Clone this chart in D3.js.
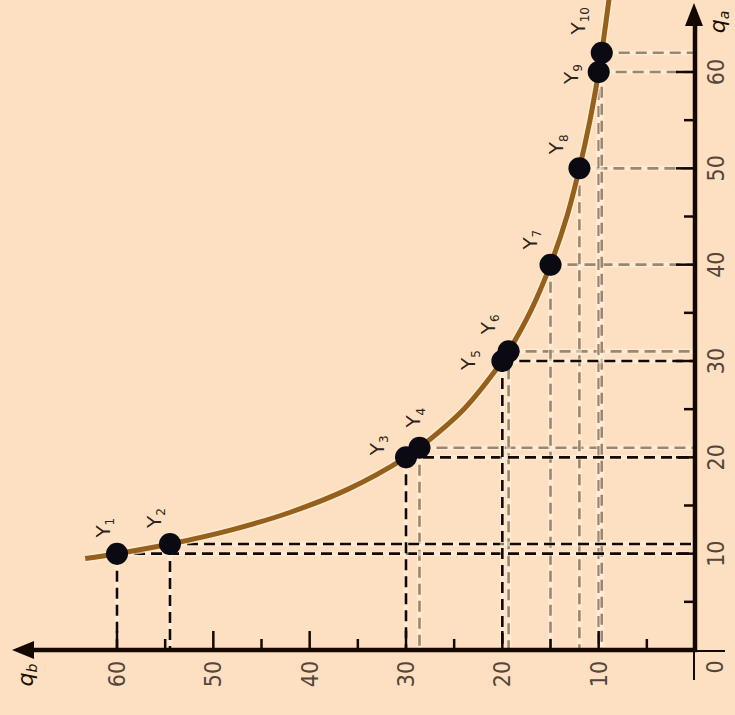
<!DOCTYPE html>
<html><head><meta charset="utf-8">
<script src="https://cdn.jsdelivr.net/npm/d3@7"></script>
<style>
html,body{margin:0;padding:0;background:#fde0c2;}
svg{display:block;}
</style></head>
<body>
<script>
// ---- data ----
const bundleNames = ["1","2","3","4","5","6","7","8","9","10"];
const bundleQb = [60, 54.5, 30, 28.6, 20, 19.35, 15, 12, 10, 9.68];
const bundleQa = [10, 11, 20, 21, 30, 31, 40, 50, 60, 62];
const bundleDark = [true, true, true, false, true, false, false, false, false, false];
const curveQb = [63.3, 60, 54.5, 48, 42, 36, 30, 28.6, 24, 20, 19.35, 17, 15, 13.3, 12, 10.9, 10, 9.68, 8.8];
const curveQa = [9.5, 10, 11, 12.5, 14.3, 16.7, 20, 21, 25, 30, 31, 35.3, 40, 45, 50, 55, 60, 62, 68.5];
const qbTicks = [10, 20, 30, 40, 50, 60];
const qaTicks = [10, 20, 30, 40, 50, 60];
const minorTicks = [5, 15, 25, 35, 45, 55];
// label offsets (layout, px)
const labelDx = [-14, -16, -29, -6, -34, -21, -21, -23, -28, -24];
const labelDy = [-26, -26, -12, -30, -1, -27, -25, -24, 2, -32];

const W = 735, H = 715;
const svg = d3.select("body").append("svg").attr("width", W).attr("height", H);
svg.append("rect").attr("width", W).attr("height", H).attr("fill", "#fde0c2");

const x = d3.scaleLinear().domain([0, 60]).range([695, 117]);
const y = d3.scaleLinear().domain([0, 60]).range([650, 72]);
const X0 = x(0), Y0 = y(0);

const bundles = bundleNames.map((n, i) => ({n, qb: bundleQb[i], qa: bundleQa[i], dark: bundleDark[i], dx: labelDx[i], dy: labelDy[i]}));

// dashed guide lines: gray first, then dark
const order = bundles.slice().sort((a, b) => (a.dark === b.dark) ? 0 : (a.dark ? 1 : -1));
const guides = svg.append("g");
order.forEach(b => {
  const col = b.dark ? "#140800" : "#9c8670";
  [[x(b.qb), y(b.qa), x(b.qb), Y0], [x(b.qb), y(b.qa), X0, y(b.qa)]].forEach(s => {
    guides.append("line").attr("x1", s[0]).attr("y1", s[1]).attr("x2", s[2]).attr("y2", s[3])
      .attr("stroke", "#fff3e0").attr("stroke-width", 5).attr("opacity", 0.5);
  });
  guides.append("line").attr("x1", x(b.qb)).attr("y1", y(b.qa)).attr("x2", x(b.qb)).attr("y2", Y0)
    .attr("stroke", col).attr("stroke-width", 2.6).attr("stroke-dasharray", "11,6");
  guides.append("line").attr("x1", x(b.qb)).attr("y1", y(b.qa)).attr("x2", X0).attr("y2", y(b.qa))
    .attr("stroke", col).attr("stroke-width", 2.6).attr("stroke-dasharray", "11,6");
});

// axes
const axG = svg.append("g");
qbTicks.forEach(t => axG.append("line").attr("x1", x(t)).attr("x2", x(t)).attr("y1", Y0).attr("y2", Y0 - 19).attr("stroke", "#140800").attr("stroke-width", 2.5));
minorTicks.forEach(t => axG.append("line").attr("x1", x(t)).attr("x2", x(t)).attr("y1", Y0).attr("y2", Y0 - 11).attr("stroke", "#140800").attr("stroke-width", 2.5));
qaTicks.forEach(t => axG.append("line").attr("y1", y(t)).attr("y2", y(t)).attr("x1", X0).attr("x2", X0 - 19).attr("stroke", "#140800").attr("stroke-width", 2.5));
minorTicks.forEach(t => axG.append("line").attr("y1", y(t)).attr("y2", y(t)).attr("x1", X0).attr("x2", X0 - 11).attr("stroke", "#140800").attr("stroke-width", 2.5));

axG.append("line").attr("x1", 30).attr("x2", X0 + 2).attr("y1", Y0).attr("y2", Y0).attr("stroke", "#140800").attr("stroke-width", 4.5);
axG.append("line").attr("x1", X0).attr("x2", 725).attr("y1", Y0 + 1).attr("y2", Y0 + 1).attr("stroke", "#140800").attr("stroke-width", 2);
axG.append("line").attr("x1", X0).attr("x2", X0).attr("y1", Y0 + 2).attr("y2", 22).attr("stroke", "#140800").attr("stroke-width", 4.5);
axG.append("line").attr("x1", X0 - 1).attr("x2", X0 - 1).attr("y1", Y0).attr("y2", 680).attr("stroke", "#140800").attr("stroke-width", 2);
axG.append("path").attr("d", `M12,${Y0} L34,${Y0 - 9} L34,${Y0 + 9} Z`).attr("fill", "#140800");
axG.append("path").attr("d", `M${X0 - 1},3 L${X0 - 10},26 L${X0 + 8},26 Z`).attr("fill", "#140800");

// tick labels
const tickFont = "'Liberation Sans Narrow','DejaVu Sans Condensed','Roboto Condensed',sans-serif";
const tl = svg.append("g").attr("font-family", tickFont).attr("font-size", 23).attr("fill", "#54463a");
qbTicks.forEach(t => tl.append("text").attr("transform", `translate(${x(t)},${Y0 + 24}) rotate(-90)`)
  .attr("text-anchor", "middle").attr("dy", "0.35em").text(t));
qaTicks.forEach(t => tl.append("text").attr("transform", `translate(${X0 + 21},${y(t)}) rotate(-90)`)
  .attr("text-anchor", "middle").attr("dy", "0.35em").text(t));
tl.append("text").attr("transform", `translate(${X0 + 20},${Y0 + 17}) rotate(-90)`)
  .attr("text-anchor", "middle").attr("dy", "0.35em").text("0");

// axis titles
const at = svg.append("g").attr("font-family", "'DejaVu Sans',sans-serif").attr("fill", "#1a0c00").attr("font-style", "italic");
const qbT = at.append("text").attr("transform", `translate(25,${Y0 + 25}) rotate(-90)`).attr("text-anchor", "middle").attr("dy", "0.35em").attr("font-size", 22);
qbT.append("tspan").text("q");
qbT.append("tspan").attr("font-size", 14).attr("dy", "0.3em").text("b");
const qaT = at.append("text").attr("transform", `translate(${X0 + 22},22) rotate(-90)`).attr("text-anchor", "middle").attr("dy", "0.35em").attr("font-size", 22);
qaT.append("tspan").text("q");
qaT.append("tspan").attr("font-size", 14).attr("dy", "0.3em").text("a");

// indifference curve
const curvePts = curveQb.map((qb, i) => [x(qb), y(curveQa[i])]);
const line = d3.line().curve(d3.curveCatmullRom.alpha(0.5));
svg.append("path").attr("d", line(curvePts)).attr("fill", "none").attr("stroke", "#fff0d6").attr("stroke-width", 8).attr("opacity", 0.7);
svg.append("path").attr("d", line(curvePts)).attr("fill", "none").attr("stroke", "#94601c").attr("stroke-width", 5);

// points
svg.append("g").selectAll("circle").data(bundles).join("circle")
  .attr("cx", d => x(d.qb)).attr("cy", d => y(d.qa)).attr("r", 11).attr("fill", "#0b0a12");

// point labels
const lg = svg.append("g").attr("font-family", "'DejaVu Sans',sans-serif").attr("fill", "#2e221a");
bundles.forEach(b => {
  const t = lg.append("text").attr("transform", `translate(${x(b.qb) + b.dx},${y(b.qa) + b.dy}) rotate(-90)`)
    .attr("text-anchor", "middle").attr("dy", "0.35em").attr("font-size", 20);
  t.append("tspan").text("Y");
  t.append("tspan").attr("font-size", 12).attr("dy", "0.35em").text(b.n);
});
</script>
</body></html>
